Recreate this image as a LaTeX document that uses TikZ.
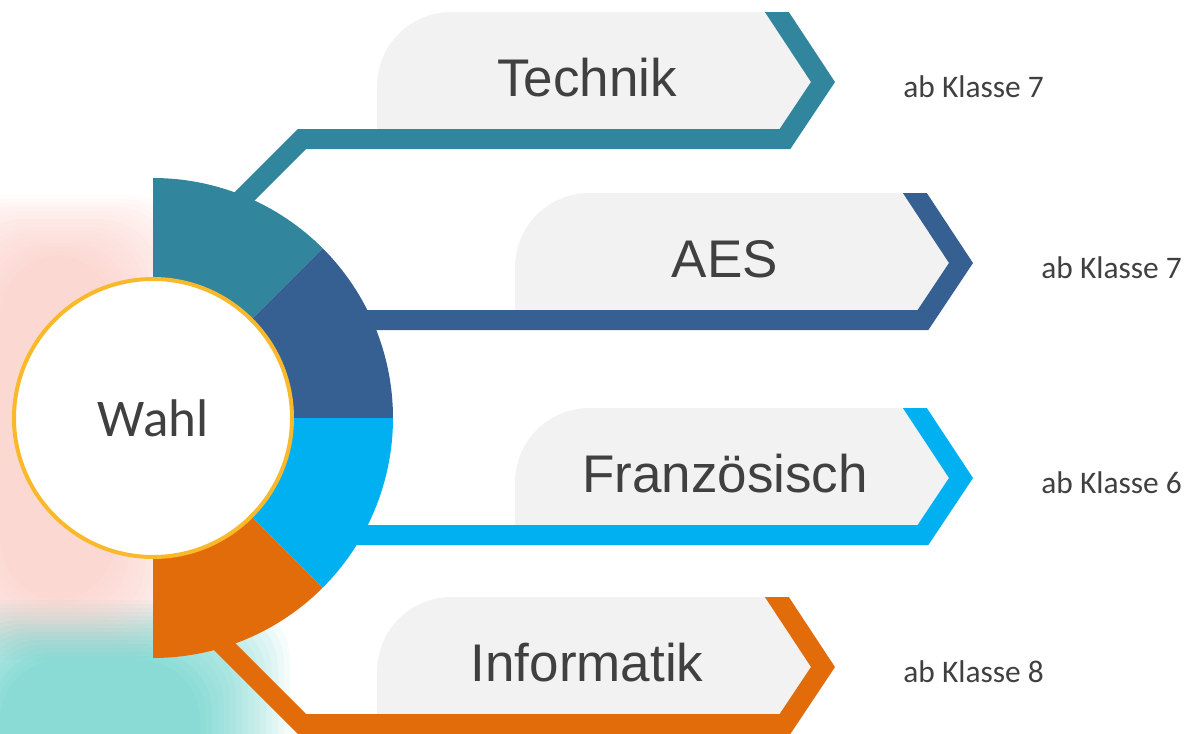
\documentclass[tikz,border=0pt]{standalone}
\usepackage{fontspec}
\setmainfont{Liberation Sans}
\newfontfamily\wahlfont{Carlito}
\usetikzlibrary{calc}
\definecolor{cTeal}{HTML}{31859C}
\definecolor{cNavy}{HTML}{366092}
\definecolor{cSky}{HTML}{00B0F0}
\definecolor{cOrange}{HTML}{E36C0A}
\definecolor{boxgray}{HTML}{F2F2F2}
\definecolor{txt}{HTML}{404040}
\definecolor{wahlring}{HTML}{F9B92A}
\definecolor{blobpink}{HTML}{FABBB2}
\definecolor{blobteal}{HTML}{32C0B6}
\tikzset{
    labelbox/.style = {fill=boxgray},
    band/.style = {draw=#1, line width=10pt, line join=miter},
    choice/.style = {text=txt, font=\fontsize{26.5}{30}\selectfont},
    grade/.style = {text=txt, anchor=west, inner sep=0pt, font=\wahlfont\fontsize{15.7}{18}\selectfont},
    wahlcircle/.style = {circle, draw=wahlring, line width=2pt, fill=white, minimum size=139pt, inner sep=0pt, text=txt, font=\wahlfont\fontsize{26.5}{30}\selectfont},
}

\begin{document}
\begin{tikzpicture}[x=0.5pt, y=-0.5pt]
\useasboundingbox (0,0) rectangle (1190,734);
\clip (0,0) rectangle (1190,734);
% soft colour patches behind the circle
\foreach \i in {0,...,15}{
  \fill[blobpink, opacity=0.05, rounded corners=30pt] ({-60+4*\i},{195+4*\i}) rectangle ({190-5*\i},{660-4*\i});
  \fill[blobteal, opacity=0.05, rounded corners=30pt] ({-60+4*\i},{600+4*\i}) rectangle ({290-6*\i},800);
}
\coordinate (mid) at (153,418);
% the four choices
\foreach \nm/\xl/\yt/\col/\lbl/\kl/\dx/\dy in {
    tech/377/12/cTeal/Technik/7/-100/100,
    aes/515/193/cNavy/AES/7/-140/0,
    fr/515/408/cSky/Französisch/6/-140/0,
    inf/377/597/cOrange/Informatik/8/-100/-100}{
  \coordinate (\nm-bend) at ({\xl-75},{\yt+127});
  \coordinate (\nm-start) at ($(\nm-bend)+(\dx,\dy)$);
  \coordinate (\nm-corner) at ({\xl+408},{\yt+127});
  \coordinate (\nm-tip) at ({\xl+446},{\yt+70});
  \coordinate (\nm-top) at ({\xl+386},{\yt-21});
  \fill[labelbox] (\xl,{\yt+127}) -- (\xl,{\yt+75}) .. controls (\xl,{\yt+33}) and ({\xl+33},\yt) .. ({\xl+75},\yt)
      -- ({\xl+400},\yt) -- (\nm-tip) -- (\nm-corner) -- cycle;
  \begin{scope}
    \clip (0,\yt) rectangle (1190,734);
    \draw[band=\col] (\nm-start) -- (\nm-bend) -- (\nm-corner) -- (\nm-tip) -- (\nm-top);
  \end{scope}
  \node[choice] (\nm) at ({\xl+210},{\yt+66}) {\lbl};
  \node[grade] (\nm-kl) at ({\xl+526},{\yt+75}) {ab Klasse \kl};
}
% half ring
\foreach \a/\b/\col in {-90/-45/cTeal, -45/0/cNavy, 0/45/cSky, 45/90/cOrange}
  \fill[\col] ($(mid)+(\a:240)$) arc[start angle=\a, end angle=\b, radius=240]
      -- ($(mid)+(\b:140)$) arc[start angle=\b, end angle=\a, radius=140] -- cycle;
\node[wahlcircle] (wahl) at (mid) {Wahl};
\end{tikzpicture}
\end{document}
